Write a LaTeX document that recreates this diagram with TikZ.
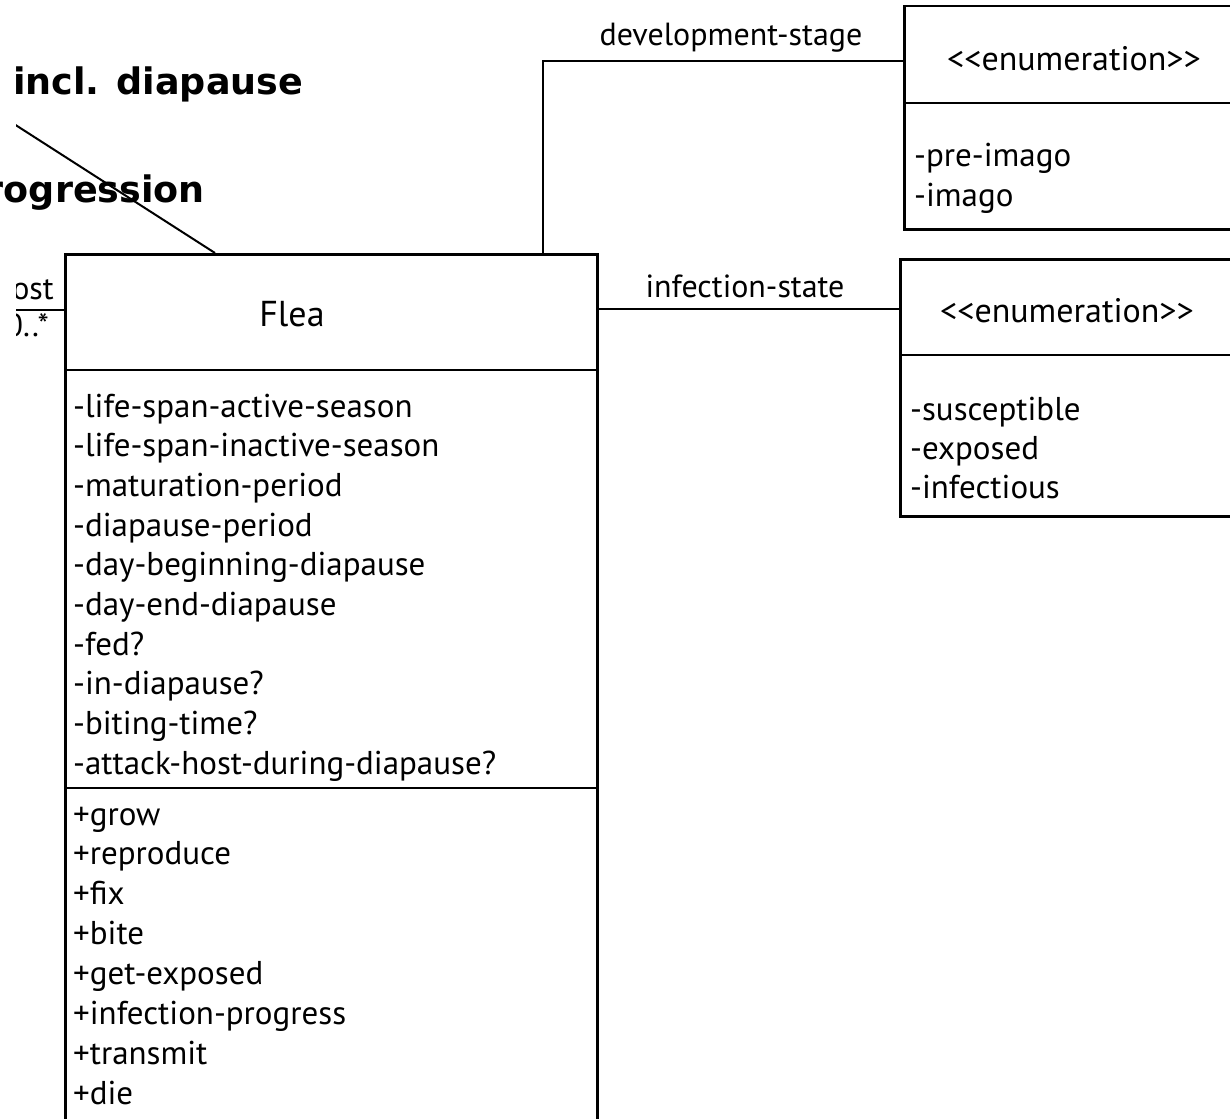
\documentclass[tikz,border=0pt]{standalone}
\usepackage{fontspec}
\setmainfont{PT Sans}
\newfontfamily\verd{DejaVu Sans}
\begin{document}
\begin{tikzpicture}[x=1pt,y=-1pt,
  box/.style={draw, line width=2.5pt, anchor=north west, inner sep=0pt},
  conn/.style={line width=2pt},
  div/.style={line width=2.5pt},
  txt/.style={inner sep=0pt, anchor=base west, font=\fontsize{33}{36}\selectfont},
  lbl/.style={inner sep=0pt, font=\fontsize{32}{34}\selectfont},
  enh/.style={inner sep=0pt, font=\fontsize{34}{36}\selectfont},
  bigbold/.style={inner sep=0pt, font=\verd\bfseries\fontsize{36.5}{40}\selectfont}]
\useasboundingbox (0,0) rectangle (1230,1118);
\clip (0,0) rectangle (1230,1118);

% boxes
\node[box, minimum width=532pt, minimum height=920pt] (flea) at (64,253) {};
\node[box, minimum width=420pt, minimum height=223pt] (dev) at (903,5) {};
\node[box, minimum width=420pt, minimum height=257pt] (inf) at (899,258) {};

% dividers
\draw[div] (flea.west |- 0,370) -- (flea.east |- 0,370);
\draw[div] (flea.west |- 0,788) -- (flea.east |- 0,788);
\draw[div] (dev.west |- 0,103) -- (dev.east |- 0,103);
\draw[div] (inf.west |- 0,355) -- (inf.east |- 0,355);

% headers
\node[inner sep=0pt, anchor=base, font=\fontsize{36}{40}\selectfont] (fleaname) at (292,326) {Flea};
\node[enh] (devhead) at (1074,59) {<{}<enumeration>{}>};
\node[enh] (infhead) at (1067,311) {<{}<enumeration>{}>};

% attributes
\foreach \t [count=\i from 0] in {-life-span-active-season,-life-span-inactive-season,-maturation-period,-diapause-period,-day-beginning-diapause,-day-end-diapause,-fed?,-in-diapause?,-biting-time?,-attack-host-during-diapause?}
  \node[txt] (attr\i) at (73,417+39.7*\i) {\t};
% operations
\foreach \t [count=\i from 0] in {+grow,+reproduce,+fix,+bite,+get-exposed,+infection-progress,+transmit,+die}
  \node[txt] (op\i) at (73,825+39.86*\i) {\t};

% enumeration values
\node[txt] (pre) at (914,167) {-pre-imago};
\node[txt] (ima) at (914,206) {-imago};
\node[txt] (sus) at (910,420) {-susceptible};
\node[txt] (exp) at (910,459) {-exposed};
\node[txt] (infc) at (910,498) {-infectious};

% connectors
\coordinate (devtop) at (543,253);
\draw[conn] (devtop) |- (dev.west |- 0,61);
\node[lbl] (devlbl) at (731,38) {development-stage};
\draw[conn] (flea.east |- 0,309) -- (inf.west |- 0,309);
\node[lbl] (inflbl) at (745,286) {infection-state};

\begin{scope}
\clip (16,0) rectangle (1230,1118);
\coordinate (hostend) at (0,310);
\draw[conn] (hostend) -- (flea.west |- 0,310);
\node[lbl, anchor=base east] (hostlbl) at (54,299) {host};
\node[lbl, anchor=base east] (mult) at (49,336) {0..*};
\coordinate (diagend) at (0,115);
\coordinate (diagtop) at (215,253);
\draw[conn] (diagend) -- (diagtop);
\end{scope}

\node[bigbold, anchor=base west] (incl) at (13,95) {incl. diapause};
\node[bigbold, anchor=base east] (prog) at (205,202) {progression};
\end{tikzpicture}
\end{document}
